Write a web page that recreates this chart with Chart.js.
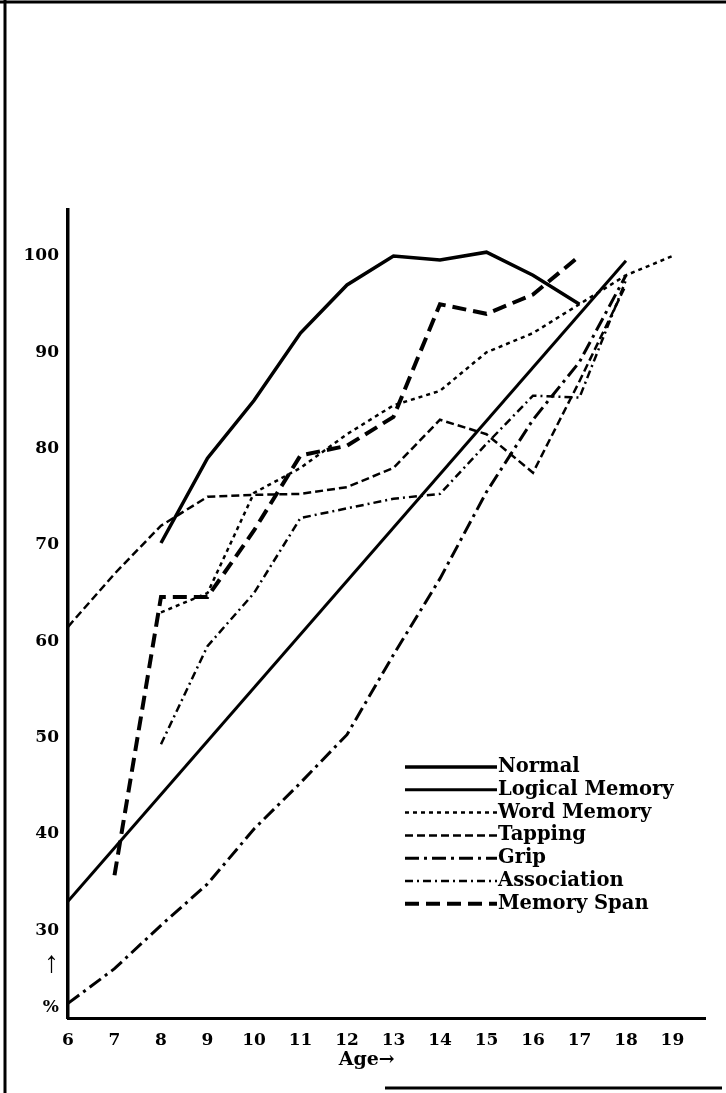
<!DOCTYPE html>
<html>
<head>
<meta charset="utf-8">
<script src="https://cdn.jsdelivr.net/npm/chart.js@4"></script>
<style>
  body { margin: 0; background: #fff; }
  canvas { display: block; }
</style>
</head>
<body>
<canvas id="myChart" width="726" height="1093"></canvas>
<script>
// ages on the x axis
const ages = [6, 7, 8, 9, 10, 11, 12, 13, 14, 15, 16, 17, 18, 19];
const yTickValues = [30, 40, 50, 60, 70, 80, 90, 100];

// percent values, one per age (null = no point)
const normal = [null, null, 70.2, 79, 85, 92, 97, 100, 99.6, 100.4, 98, 95, null, null];
const logicalMemory = [33, null, null, null, null, null, null, null, null, null, null, null, 99.5, null];
const wordMemory = [null, null, 63, 65, 75.4, 78, 81.5, 84.5, 86, 90, 92, 95, 98, 100];
const tapping = [61.5, 67, 72, 75, 75.2, 75.3, 76, 78, 83, 81.5, 77.5, 87, 97, null];
const grip = [22.4, 26, 30.5, 34.8, 40.5, 45.3, 50.3, 58.6, 66.5, 75.5, 83, 89, 98, null];
const association = [null, null, 49.3, 59.5, 65, 72.8, 73.8, 74.8, 75.3, 80.5, 85.5, 85.3, 97.5, null];
const memorySpan = [null, 35.7, 64.6, 64.6, 71.5, 79.3, 80.3, 83.3, 95, 94, 96, 100, null, null];

function pts(values) {
  return ages.map((a, i) => ({ x: a, y: values[i] }));
}

const serif = "'DejaVu Serif', serif";

function line(label, values, width, dash) {
  return {
    label: label,
    data: pts(values),
    borderColor: "#000",
    borderWidth: width,
    borderDash: dash,
    borderCapStyle: "butt",
    pointRadius: 0,
    tension: 0,
    spanGaps: true,
    fill: false,
  };
}

const data = {
  datasets: [
    line("Normal", normal, 3.5, []),
    line("Logical Memory", logicalMemory, 3, []),
    line("Word Memory", wordMemory, 2.5, [4, 4]),
    line("Tapping", tapping, 2.5, [8, 4]),
    line("Grip", grip, 3, [14, 5, 3, 5]),
    line("Association", association, 2.5, [8, 4, 2, 4]),
    line("Memory Span", memorySpan, 4, [14, 7]),
  ],
};

// page frame + white background
const framePlugin = {
  id: "frame",
  beforeDraw(chart) {
    const ctx = chart.ctx;
    ctx.save();
    ctx.fillStyle = "#fff";
    ctx.fillRect(0, 0, chart.width, chart.height);
    ctx.strokeStyle = "#000";
    ctx.lineWidth = 3;
    ctx.beginPath();
    ctx.moveTo(5, 0); ctx.lineTo(5, 1093);
    ctx.moveTo(0, 2); ctx.lineTo(726, 2);
    ctx.moveTo(385, 1088); ctx.lineTo(722, 1088);
    ctx.stroke();
    ctx.restore();
  },
};

// legend drawn inside the plot, lower right
const legendPlugin = {
  id: "innerLegend",
  afterDraw(chart) {
    const ctx = chart.ctx;
    ctx.save();
    chart.data.datasets.forEach((ds, i) => {
      const y = 767 + i * 22.8;
      ctx.beginPath();
      ctx.strokeStyle = "#000";
      ctx.lineWidth = ds.borderWidth;
      ctx.setLineDash(ds.borderDash);
      ctx.moveTo(405, y);
      ctx.lineTo(497, y);
      ctx.stroke();
      ctx.setLineDash([]);
      ctx.fillStyle = "#000";
      ctx.font = "bold 19.5px " + serif;
      ctx.textBaseline = "middle";
      ctx.textAlign = "left";
      ctx.fillText(ds.label, 498, y);
    });
    ctx.restore();
  },
};

const config = {
  type: "line",
  data,
  options: {
    responsive: false,
    animation: false,
    devicePixelRatio: 1,
    layout: { padding: { left: 0, top: 210, right: 21, bottom: 18 } },
    plugins: { legend: { display: false }, tooltip: { enabled: false } },
    scales: {
      x: {
        type: "linear",
        min: 6,
        max: 19.7,
        afterBuildTicks(scale) {
          scale.ticks = ages.map((v) => ({ value: v }));
        },
        afterFit(scale) {
          scale.height = 57;
        },
        grid: { display: false, drawTicks: false },
        border: { display: true, color: "#000", width: 3 },
        ticks: {
          color: "#000",
          padding: 12,
          maxRotation: 0,
          autoSkip: false,
          font: { family: serif, weight: "bold", size: 17 },
        },
        title: {
          display: true,
          text: "Age\u2192      ",
          color: "#000",
          font: { family: serif, weight: "bold", size: 19 },
        },
      },
      y: {
        min: 20.88,
        max: 104.78,
        afterBuildTicks(scale) {
          scale.ticks = [22, 26.5].concat(yTickValues).map((v) => ({ value: v }));
        },
        afterFit(scale) {
          scale.width = 68;
        },
        grid: { display: false, drawTicks: false },
        border: { display: true, color: "#000", width: 3.5 },
        ticks: {
          color: "#000",
          padding: 9,
          autoSkip: false,
          callback: (v) => (v === 22 ? "%" : v === 26.5 ? "\u2191" : v),
          font: (c) =>
            c.tick && c.tick.value === 26.5
              ? { family: "'Liberation Serif', serif", weight: "bold", size: 30 }
              : { family: serif, weight: "bold", size: 17 },
        },
      },
    },
  },
  plugins: [framePlugin, legendPlugin],
};

const myChart = new Chart(document.getElementById("myChart"), config);
</script>
</body>
</html>
